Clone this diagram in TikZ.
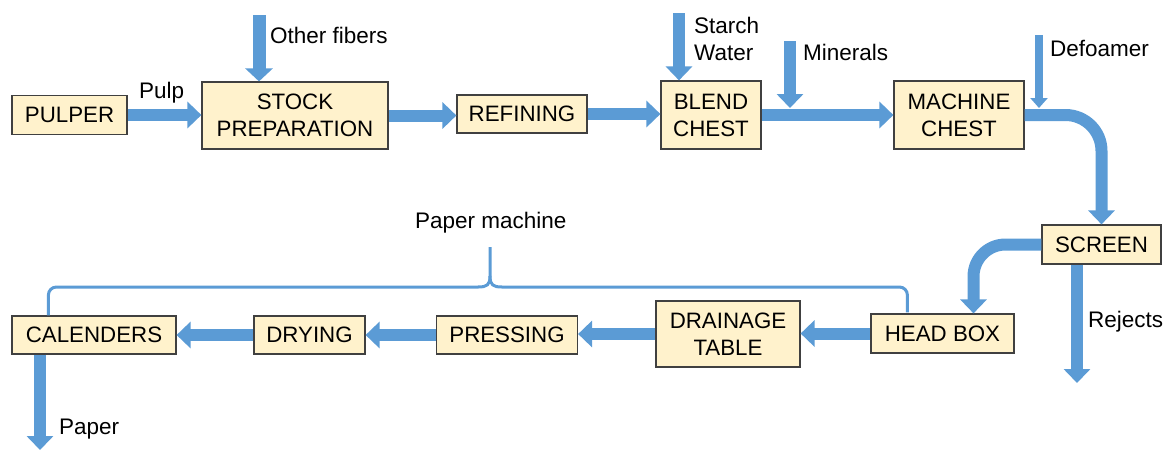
\documentclass[tikz,border=0pt]{standalone}
\usepackage{fontspec}
\setmainfont{Liberation Sans}
\usetikzlibrary{arrows.meta,calc}
\definecolor{arrowblue}{RGB}{91,155,213}
\definecolor{boxfill}{RGB}{255,242,204}
\definecolor{boxline}{RGB}{64,64,64}
\begin{document}
\begin{tikzpicture}[x=1pt,y=-1pt,
  box/.style={draw=boxline, line width=1.2pt, fill=boxfill, inner sep=0pt, align=center,
    font=\fontsize{22.3}{27}\selectfont},
  lbl/.style={inner sep=0pt, anchor=base west, font=\fontsize{22.5}{27}\selectfont},
  flow/.style={draw=arrowblue, line width=12pt, -{Triangle[width=26pt,length=14pt]}},
  thinflow/.style={draw=arrowblue, line width=8pt, -{Triangle[width=17pt,length=10pt]}},
  brace/.style={draw=arrowblue, line width=3pt}]
\useasboundingbox (0,0) rectangle (1173,451);
% boxes
\node[box, minimum width=115pt, minimum height=39pt] (pulper) at (69.5,115) {PULPER};
\node[box, minimum width=186pt, minimum height=67pt] (stock) at (295,115.5) {STOCK\\PREPARATION};
\node[box, minimum width=130pt, minimum height=38pt] (refining) at (522,114) {REFINING};
\node[box, minimum width=100pt, minimum height=68pt] (blend) at (711,115) {BLEND\\CHEST};
\node[box, minimum width=130pt, minimum height=68pt] (machine) at (959,115) {MACHINE\\CHEST};
\node[box, minimum width=119pt, minimum height=39pt] (screen) at (1101.5,244.5) {SCREEN};
\node[box, minimum width=143pt, minimum height=39pt] (headbox) at (942.5,333.5) {HEAD BOX};
\node[box, minimum width=144pt, minimum height=66pt] (drainage) at (728,334) {DRAINAGE\\TABLE};
\node[box, minimum width=141pt, minimum height=38pt] (pressing) at (507,335) {PRESSING};
\node[box, minimum width=111pt, minimum height=38pt] (drying) at (309.5,335) {DRYING};
\node[box, minimum width=164pt, minimum height=38pt] (calenders) at (94,335) {CALENDERS};
% free ends
\coordinate (fibersin) at (259,15);
\coordinate (starchin) at (679,13);
\coordinate (mineralsin) at (790,41);
\coordinate (mineralsend) at (790,108);
\coordinate (defoamin) at (1039,35);
\coordinate (defoamend) at (1039,108);
\coordinate (rejectsend) at (1077,383);
\coordinate (paperend) at (40,450);
% main flow top row
\draw[flow] (pulper.east) -- (stock.west |- pulper.east);
\draw[flow] (stock.east) -- (refining.west |- stock.east);
\draw[flow] (refining.east) -- (blend.west |- refining.east);
\draw[flow] (blend.east) -- (machine.west |- blend.east);
\draw[flow, rounded corners=36pt] (machine.east) -| (screen.north);
\draw[flow, rounded corners=32pt] (screen.west) -| ($(headbox.north)+(31,0)$);
\draw[flow] ($(screen.south)+(-24.5,0)$) -- (rejectsend);
% bottom row
\draw[flow] (headbox.west) -- (drainage.east |- headbox.west);
\draw[flow] (drainage.west) -- (pressing.east |- drainage.west);
\draw[flow] (pressing.west) -- (drying.east |- pressing.west);
\draw[flow] (drying.west) -- (calenders.east |- drying.west);
\draw[flow] (calenders.south -| paperend) -- (paperend);
% inputs
\draw[flow, line width=13pt, -{Triangle[width=27pt,length=13pt]}] (fibersin) -- (stock.north -| fibersin);
\draw[flow] (starchin) -- (blend.north -| starchin);
\draw[flow] (mineralsin) -- (mineralsend);
\draw[thinflow] (defoamin) -- (defoamend);
% brace
\coordinate (bl) at ($(calenders.north west)+(37,0)$);
\coordinate (br) at ($(headbox.north west)+(37,-1)$);
\coordinate (btip) at (490,247);
\draw[brace, rounded corners=8pt] (bl) -- (bl |- 0,287) -- (478,287);
\draw[brace] (478,287) .. controls (487,287) and (490,285) .. (490,276) -- (btip);
\draw[brace] (490,276) .. controls (490,285) and (493,287) .. (502,287);
\draw[brace, rounded corners=8pt] (502,287) -- (br |- 0,287) -- (br);
% labels
\node[lbl] (lpulp) at (139,98) {Pulp};
\node[lbl] (lfibers) at (270,43) {Other fibers};
\node[lbl] (lstarch) at (694,33) {Starch};
\node[lbl] (lwater) at (694,60) {Water};
\node[lbl] (lminerals) at (803,60) {Minerals};
\node[lbl] (ldefoam) at (1050,56) {Defoamer};
\node[lbl] (lrejects) at (1088,327) {Rejects};
\node[lbl] (lpaper) at (59,434) {Paper};
\node[lbl] (lpm) at (415,228) {Paper machine};
\end{tikzpicture}
\end{document}
